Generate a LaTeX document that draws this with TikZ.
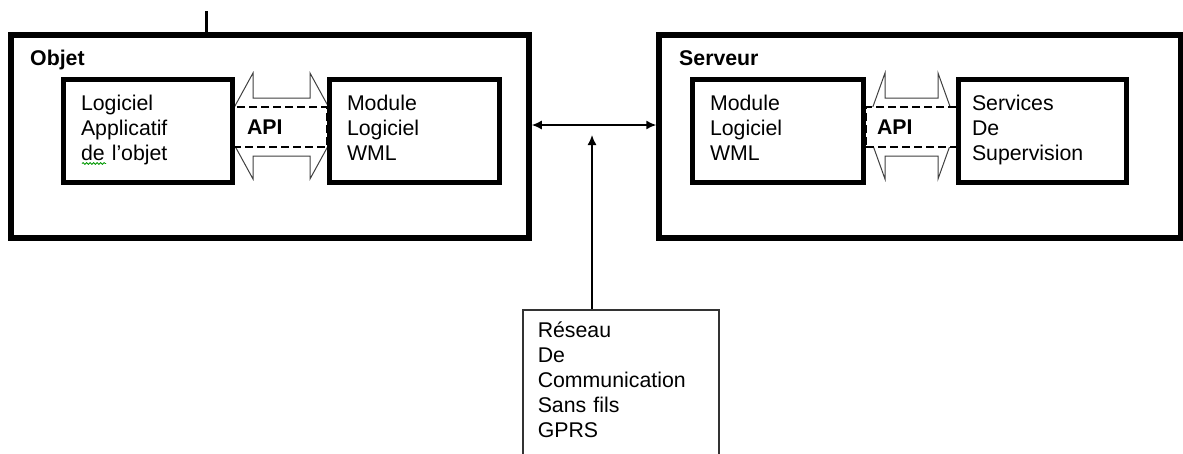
\documentclass[tikz,border=0pt]{standalone}
\usepackage{fontspec}
\setmainfont{Liberation Sans}
\usetikzlibrary{calc,arrows.meta,decorations.pathmorphing}

\begin{document}
\begin{tikzpicture}[>=Latex,x=1pt,y=-1pt,
  every node/.style={font=\fontsize{21.3}{25}\selectfont},
  bigbox/.style={draw,line width=5.5pt,minimum height=203pt,inner sep=0pt},
  swbox/.style={draw,fill=white,line width=5pt,minimum height=103pt,align=left,
    inner xsep=18pt,inner ysep=0pt,execute at begin node=\strut,execute at end node=\strut},
  apibox/.style={draw,fill=white,line width=1.5pt,dash pattern=on 8pt off 4pt,
    minimum height=40pt,inner ysep=0pt,align=left,font=\fontsize{21.3}{25}\selectfont\bfseries},
  apiarrow/.style={draw=black!75,fill=white,line width=1pt,line join=miter},
  radiolink/.style={line width=1.5pt,arrows={Latex[length=10pt,width=9pt]-Latex[length=10pt,width=9pt]}}]
  \useasboundingbox (0,0) rectangle (1183,453);
  % the two systems
  \node[bigbox,minimum width=518pt] (objet) at (270,136.5) {};
  \node[bigbox,minimum width=522pt] (serveur) at (920,136.5) {};
  \node[font=\fontsize{21.3}{25}\selectfont\bfseries,anchor=base west,inner sep=0pt] (objetlbl) at (30,65) {Objet};
  \node[font=\fontsize{21.3}{25}\selectfont\bfseries,anchor=base west,inner sep=0pt] (serveurlbl) at (679,65.5) {Serveur};
  \coordinate (tick) at (206,11);
  \draw[line width=3pt] (tick) -- (tick |- objet.north);
  % API double arrows, tips hidden under the boxes
  \draw[apiarrow] (224,126) -- (253,73) -- (253,98) -- (310,98) -- (310,73) -- (339,126)
    -- (310,179) -- (310,156) -- (253,156) -- (253,179) -- cycle;
  \draw[apiarrow] (866,126) -- (885,73) -- (885,98) -- (938,98) -- (938,73) -- (957,126)
    -- (938,179) -- (938,156) -- (885,156) -- (885,179) -- cycle;
  \node[apibox,text width=66pt,inner xsep=14pt] (apiobj) at (280,127) {API};
  \node[apibox,text width=69pt,inner xsep=11pt] (apisrv) at (911.5,127) {API};
  % software blocks
  \node[swbox,text width=133pt] (logiciel) at (147.5,130.5) {Logiciel\\Applicatif\\de l’objet};
  \node[swbox,text width=134pt] (modobj) at (414,130.5) {Module\\Logiciel\\WML};
  \node[swbox,text width=135pt] (modsrv) at (777.5,130.5) {Module\\Logiciel\\WML};
  \node[swbox,text width=140pt,inner xsep=14pt] (services) at (1042,130.5) {Services\\De\\Supervision};
  \draw[green!60!black,line width=0.8pt,decorate,decoration={snake,amplitude=0.9pt,segment length=3.5pt}]
    (82,163.5) -- (106,163.5);
  % wireless network
  \node[draw=black!80,line width=1.5pt,anchor=north west,align=left,text width=166pt,
    inner xsep=15pt,inner ysep=10.5pt,text depth=150pt,execute at begin node=\strut] (reseau)
    at (522,309) {Réseau\\De\\Communication\\Sans fils\\GPRS};
  \coordinate (link) at (592,125);
  \coordinate (linktip) at (592,135);
  \draw[radiolink] (objet.east |- link) -- (serveur.west |- link);
  \draw[line width=1.5pt,-{Latex[length=10pt,width=9pt]}] (reseau.north -| linktip) -- (linktip);
\end{tikzpicture}
\end{document}
